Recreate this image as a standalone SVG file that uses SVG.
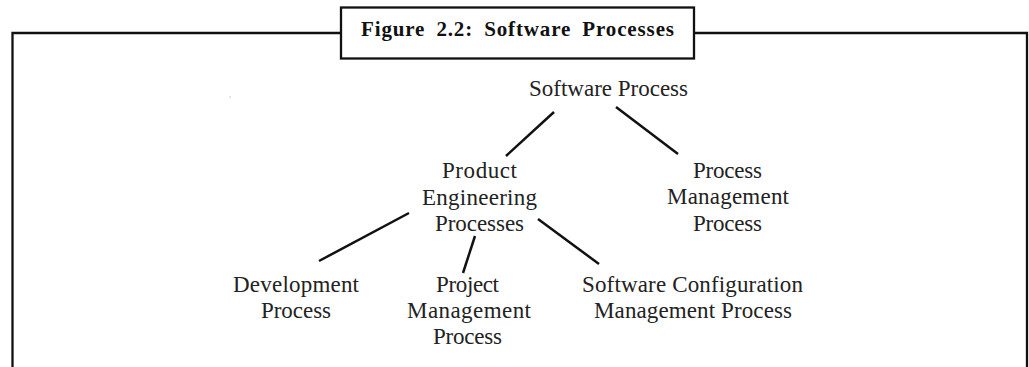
<svg xmlns="http://www.w3.org/2000/svg" width="1029" height="367" viewBox="0 0 1029 367">
<style>
.frame{fill:none;stroke:#111;stroke-width:2.3}
.title{font-family:"Liberation Serif","Times New Roman",serif;font-weight:bold;font-size:21px;word-spacing:5px;fill:#111}
.lbl{font-family:"Liberation Serif","Times New Roman",serif;font-size:23px;fill:#222;text-anchor:middle}
.conn line{stroke:#111;stroke-width:2.5;stroke-linecap:butt}
</style>
<rect width="1029" height="367" fill="#fff"/>
<g id="frame">
<path class="frame" d="M12.5,367 V33 H341 M694,33 H1027 V367"/>
<rect class="frame" x="341" y="7.5" width="353" height="51"/>
<text class="title" x="517.5" y="36" text-anchor="middle" textLength="313" lengthAdjust="spacing">Figure 2.2: Software Processes</text>
</g>
<rect x="229.5" y="96.5" width="1" height="1" fill="#999"/>
<g id="connectors" class="conn">
<line x1="554" y1="112" x2="506" y2="156"/>
<line x1="616" y1="107" x2="678" y2="154"/>
<line x1="409" y1="213" x2="319" y2="261"/>
<line x1="475" y1="236" x2="463" y2="273"/>
<line x1="538" y1="219" x2="599" y2="264"/>
</g>
<g id="software-process">
<text class="lbl" x="608.5" y="96" textLength="159" lengthAdjust="spacing">Software Process</text>
</g>
<g id="product-engineering">
<text class="lbl" x="479.5" y="178" textLength="75" lengthAdjust="spacing">Product</text>
<text class="lbl" x="479.5" y="205" textLength="115" lengthAdjust="spacing">Engineering</text>
<text class="lbl" x="479.5" y="231" textLength="89" lengthAdjust="spacing">Processes</text>
</g>
<g id="process-management">
<text class="lbl" x="727.5" y="178" textLength="69" lengthAdjust="spacing">Process</text>
<text class="lbl" x="728" y="204" textLength="122" lengthAdjust="spacing">Management</text>
<text class="lbl" x="727.5" y="231" textLength="69" lengthAdjust="spacing">Process</text>
</g>
<g id="development">
<text class="lbl" x="296" y="292" textLength="126" lengthAdjust="spacing">Development</text>
<text class="lbl" x="296" y="318" textLength="70" lengthAdjust="spacing">Process</text>
</g>
<g id="project-management">
<text class="lbl" x="467.5" y="292" textLength="63" lengthAdjust="spacing">Project</text>
<text class="lbl" x="469" y="318" textLength="124" lengthAdjust="spacing">Management</text>
<text class="lbl" x="467.5" y="344" textLength="69" lengthAdjust="spacing">Process</text>
</g>
<g id="software-configuration">
<text class="lbl" x="692.5" y="292" textLength="221" lengthAdjust="spacing">Software Configuration</text>
<text class="lbl" x="693" y="318" textLength="198" lengthAdjust="spacing">Management Process</text>
</g>
</svg>
